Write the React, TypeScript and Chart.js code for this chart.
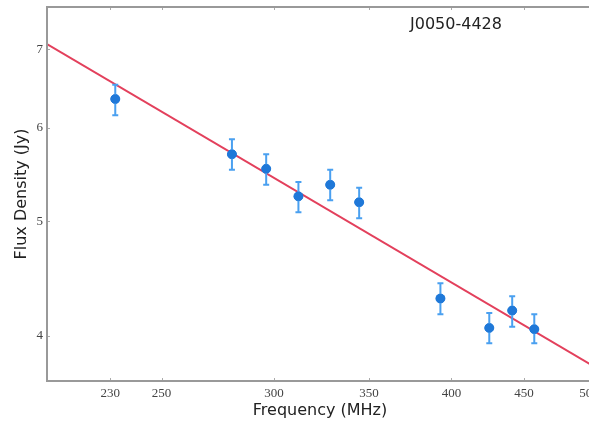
import React, { useEffect, useRef } from "react";
import { Chart, registerables } from "chart.js";

Chart.register(...registerables);

// Data
const freq = [231.9, 280.2, 296.2, 312.1, 328.6, 344.4, 392.9, 425.3, 441.4, 457.5];
const flux = [6.35, 5.70, 5.54, 5.25, 5.37, 5.19, 4.30, 4.06, 4.20, 4.05];
const fluxHi = [6.53, 5.87, 5.70, 5.40, 5.53, 5.34, 4.43, 4.18, 4.32, 4.17];
const fluxLo = [6.15, 5.53, 5.37, 5.09, 5.21, 5.03, 4.17, 3.94, 4.07, 3.94];

// Fitted power law (endpoints read at the axis edges)
const fitFreq = [207.6, 503.2];
const fitFlux = [7.07, 3.77];

const xTicks = [230, 250, 300, 350, 400, 450, 500];
const yTicks = [4, 5, 6, 7];
const sourceName = "J0050-4428";

const errorBarPlugin = {
  id: "errorBars",
  afterDatasetsDraw(chart: any) {
    const { ctx, scales } = chart;
    const xs = scales.x;
    const ys = scales.y;
    ctx.save();
    ctx.strokeStyle = "#4aa0f0";
    ctx.lineWidth = 2;
    for (let i = 0; i < freq.length; i++) {
      const px = xs.getPixelForValue(freq[i]);
      const top = ys.getPixelForValue(fluxHi[i]);
      const bot = ys.getPixelForValue(fluxLo[i]);
      ctx.beginPath();
      ctx.moveTo(px, top);
      ctx.lineTo(px, bot);
      ctx.moveTo(px - 3, top);
      ctx.lineTo(px + 3, top);
      ctx.moveTo(px - 3, bot);
      ctx.lineTo(px + 3, bot);
      ctx.stroke();
    }
    // redraw markers on top of error bars
    ctx.fillStyle = "#1f78d8";
    for (let i = 0; i < freq.length; i++) {
      const px = xs.getPixelForValue(freq[i]);
      const py = ys.getPixelForValue(flux[i]);
      ctx.beginPath();
      ctx.arc(px, py, 4.5, 0, Math.PI * 2);
      ctx.fill();
    }
    ctx.restore();
  },
};

const framePlugin = {
  id: "frame",
  afterDraw(chart: any) {
    const { ctx, chartArea, scales } = chart;
    const { left, right, top, bottom } = chartArea;
    ctx.save();
    // inward tick marks
    ctx.strokeStyle = "#aaaaaa";
    ctx.lineWidth = 1;
    ctx.beginPath();
    for (const t of xTicks) {
      const px = Math.round(scales.x.getPixelForValue(t)) + 0.5;
      ctx.moveTo(px, bottom);
      ctx.lineTo(px, bottom - 3);
      ctx.moveTo(px, top);
      ctx.lineTo(px, top + 3);
    }
    for (const t of yTicks) {
      const py = Math.round(scales.y.getPixelForValue(t)) + 0.5;
      ctx.moveTo(left, py);
      ctx.lineTo(left + 3, py);
    }
    ctx.stroke();
    // spines
    ctx.strokeStyle = "#999999";
    ctx.lineWidth = 2;
    ctx.beginPath();
    ctx.moveTo(left, top);
    ctx.lineTo(right, top);
    ctx.lineTo(right, bottom);
    ctx.lineTo(left, bottom);
    ctx.closePath();
    ctx.stroke();
    // source name
    ctx.fillStyle = "#222222";
    ctx.font = "16px 'DejaVu Sans'";
    ctx.textAlign = "center";
    ctx.textBaseline = "middle";
    ctx.fillText(sourceName, 456, 25);
    ctx.restore();
  },
};

export default function App() {
  const ref = useRef<HTMLCanvasElement>(null);
  useEffect(() => {
    if (!ref.current) return;
    const tickFont = { family: "'Liberation Serif'", size: 13 };
    const chart = new Chart(ref.current, {
      type: "scatter",
      data: {
        datasets: [
          {
            type: "line",
            data: fitFreq.map((f, i) => ({ x: f, y: fitFlux[i] })),
            borderColor: "#e3405c",
            borderWidth: 2,
            pointRadius: 0,
            fill: false,
            order: 2,
          },
          {
            type: "scatter",
            data: freq.map((f, i) => ({ x: f, y: flux[i] })),
            backgroundColor: "#1f78d8",
            borderColor: "#1f78d8",
            pointRadius: 4.5,
            order: 1,
          },
        ],
      },
      options: {
        responsive: false,
        animation: false,
        layout: { padding: { top: 7, right: 7, left: 0, bottom: 0 } },
        plugins: { legend: { display: false }, tooltip: { enabled: false } },
        scales: {
          x: {
            type: "logarithmic",
            min: 207.6,
            max: 503.2,
            afterFit: (s: any) => {
              s.height = 41;
              s.paddingLeft = 0;
              s.paddingRight = 0;
            },
            afterBuildTicks: (s: any) => {
              s.ticks = xTicks.map((v) => ({ value: v }));
            },
            grid: { display: false, drawTicks: false },
            border: { display: false },
            ticks: {
              autoSkip: false,
              maxRotation: 0,
              padding: 5,
              color: "#444444",
              font: tickFont,
              callback: (v: any) => String(v),
            },
            title: {
              display: true,
              text: "Frequency (MHz)",
              color: "#222222",
              font: { family: "'DejaVu Sans'", size: 16 },
              padding: { top: 0, bottom: 2 },
            },
          },
          y: {
            type: "logarithmic",
            min: 3.66,
            max: 7.6,
            afterFit: (s: any) => {
              s.width = 47;
              s.paddingTop = 0;
              s.paddingBottom = 0;
            },
            afterBuildTicks: (s: any) => {
              s.ticks = yTicks.map((v) => ({ value: v }));
            },
            grid: { display: false, drawTicks: false },
            border: { display: false },
            ticks: {
              autoSkip: false,
              padding: 4,
              color: "#444444",
              font: tickFont,
              callback: (v: any) => String(v),
            },
            title: {
              display: true,
              text: "Flux Density (Jy)",
              color: "#222222",
              font: { family: "'DejaVu Sans'", size: 16 },
              padding: { top: 12, bottom: 0 },
            },
          },
        },
      },
      plugins: [errorBarPlugin, framePlugin],
    });
    return () => chart.destroy();
  }, []);
  return (
    <div
      style={{
        position: "absolute",
        left: 0,
        top: 0,
        width: 589,
        height: 422,
        overflow: "hidden",
        background: "#ffffff",
      }}
    >
      <canvas ref={ref} width={600} height={422} style={{ display: "block", width: 600, height: 422 }} />
    </div>
  );
}
